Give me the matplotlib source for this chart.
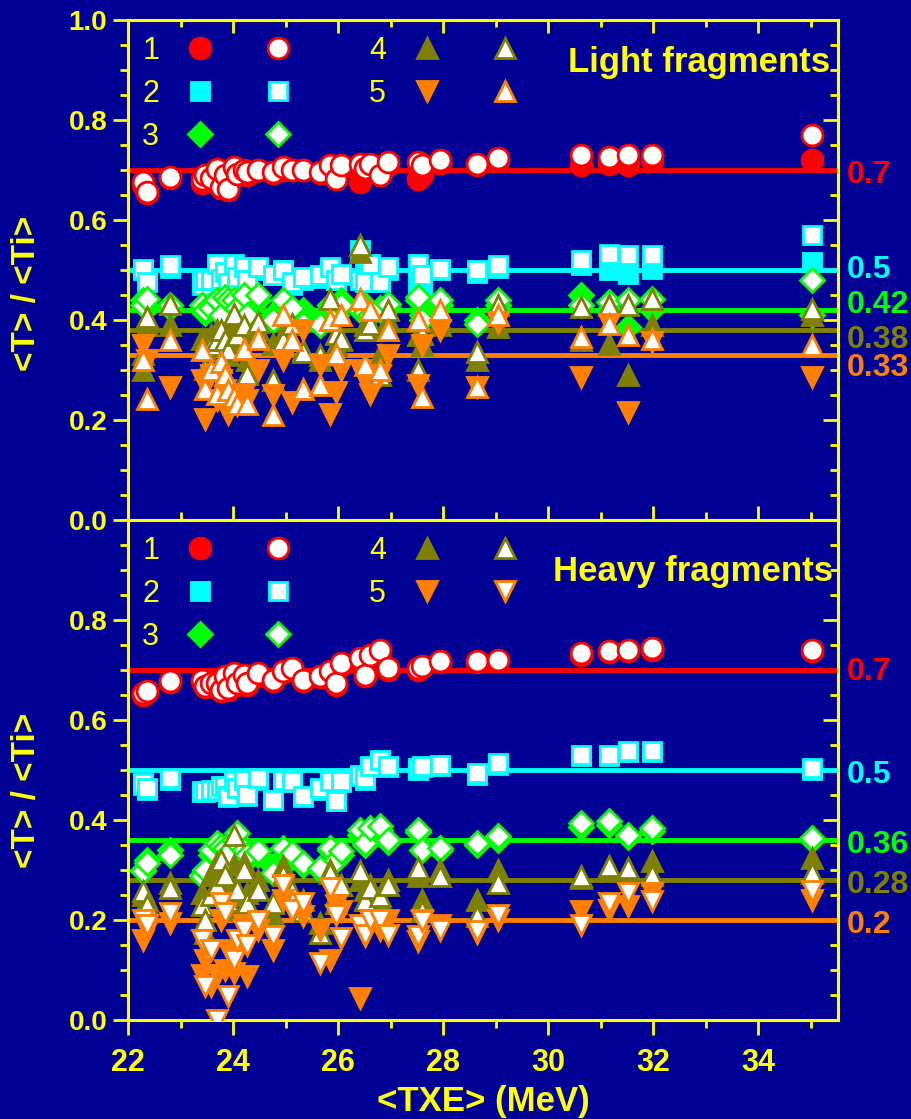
#!/usr/bin/env python3
# -*- coding: utf-8 -*-
"""
<T>/<Ti> vs <TXE> for light and heavy fragments.
"""

import matplotlib
matplotlib.use('Agg')
import matplotlib.pyplot as plt
from matplotlib.legend_handler import HandlerTuple
from matplotlib.ticker import MultipleLocator, FixedLocator, FormatStrFormatter

plt.rcParams['font.family'] = ['Liberation Sans', 'DejaVu Sans']

# <TXE> (MeV) of each data set
txe = [22.29, 22.36, 22.80, 23.40, 23.47, 23.58, 23.69, 23.78, 23.85, 23.91,
       24.01, 24.08, 24.20, 24.26, 24.48, 24.77, 24.96, 25.12, 25.34, 25.66,
       25.85, 25.97, 26.05, 26.42, 26.52, 26.61, 26.80, 26.95, 27.53, 27.60,
       27.94, 28.64, 29.05, 30.63, 31.16, 31.53, 31.97, 35.02]

# ---- light fragments ----
L1_fill = [0.670, 0.655, 0.685, 0.675, 0.680, 0.680, 0.690, 0.665, 0.670, 0.660,
           0.700, 0.690, 0.695, 0.690, 0.700, 0.695, 0.700, 0.700, 0.700, 0.695,
           0.705, 0.685, 0.705, 0.677, 0.700, 0.705, 0.690, 0.710, 0.683, 0.690,
           0.715, 0.710, 0.720, 0.710, 0.713, 0.710, 0.720, 0.720]
L1_open = [0.677, 0.657, 0.687, 0.683, 0.690, 0.685, 0.703, 0.667, 0.690, 0.662,
           0.707, 0.693, 0.700, 0.697, 0.700, 0.697, 0.707, 0.700, 0.700, 0.697,
           0.710, 0.683, 0.710, 0.713, 0.705, 0.713, 0.690, 0.717, 0.717, 0.710,
           0.720, 0.713, 0.725, 0.730, 0.727, 0.730, 0.730, 0.770]
L2_fill = [0.500, 0.480, 0.505, 0.480, 0.475, 0.480, 0.500, 0.490, 0.490, 0.480,
           0.500, 0.490, 0.500, 0.495, 0.500, 0.490, 0.500, 0.470, 0.480, 0.485,
           0.500, 0.480, 0.490, 0.540, 0.500, 0.500, 0.480, 0.500, 0.475, 0.470,
           0.500, 0.495, 0.505, 0.510, 0.500, 0.493, 0.503, 0.517]
L2_open = [0.503, 0.477, 0.510, 0.470, 0.480, 0.480, 0.513, 0.483, 0.497, 0.475,
           0.513, 0.487, 0.507, 0.480, 0.507, 0.490, 0.500, 0.477, 0.487, 0.490,
           0.507, 0.480, 0.493, 0.480, 0.477, 0.513, 0.477, 0.507, 0.513, 0.490,
           0.503, 0.500, 0.510, 0.520, 0.533, 0.530, 0.530, 0.570]
L3_fill = [0.440, 0.425, 0.425, 0.420, 0.415, 0.430, 0.430, 0.415, 0.440, 0.430,
           0.430, 0.420, 0.440, 0.420, 0.440, 0.410, 0.430, 0.420, 0.420, 0.400,
           0.430, 0.410, 0.440, 0.420, 0.430, 0.415, 0.420, 0.425, 0.440, 0.410,
           0.430, 0.400, 0.430, 0.450, 0.420, 0.387, 0.420, 0.410]
L3_open = [0.430, 0.443, 0.430, 0.430, 0.420, 0.425, 0.440, 0.410, 0.447, 0.440,
           0.440, 0.425, 0.450, 0.410, 0.450, 0.400, 0.440, 0.425, 0.393, 0.390,
           0.430, 0.420, 0.430, 0.420, 0.415, 0.410, 0.425, 0.433, 0.447, 0.400,
           0.440, 0.393, 0.440, 0.430, 0.437, 0.440, 0.443, 0.480]
L4_fill = [0.300, 0.390, 0.390, 0.363, 0.340, 0.370, 0.380, 0.350, 0.370, 0.330,
           0.390, 0.360, 0.370, 0.320, 0.380, 0.353, 0.370, 0.360, 0.340, 0.320,
           0.400, 0.350, 0.360, 0.537, 0.390, 0.380, 0.330, 0.400, 0.370, 0.350,
           0.390, 0.320, 0.386, 0.360, 0.353, 0.290, 0.390, 0.410]
L4_open = [0.333, 0.407, 0.433, 0.340, 0.303, 0.350, 0.360, 0.380, 0.360, 0.340,
           0.413, 0.370, 0.390, 0.293, 0.397, 0.280, 0.360, 0.393, 0.337, 0.330,
           0.443, 0.373, 0.363, 0.550, 0.380, 0.393, 0.290, 0.420, 0.300, 0.373,
           0.400, 0.337, 0.430, 0.427, 0.430, 0.430, 0.443, 0.423]
L5_fill = [0.350, 0.320, 0.267, 0.280, 0.203, 0.290, 0.240, 0.280, 0.260, 0.213,
           0.250, 0.230, 0.253, 0.240, 0.300, 0.250, 0.320, 0.237, 0.380, 0.310,
           0.213, 0.257, 0.300, 0.300, 0.280, 0.253, 0.290, 0.330, 0.270, 0.350,
           0.380, 0.267, 0.397, 0.287, 0.393, 0.217, 0.357, 0.287]
L5_open = [0.320, 0.243, 0.360, 0.340, 0.263, 0.300, 0.253, 0.317, 0.290, 0.260,
           0.247, 0.233, 0.343, 0.233, 0.363, 0.210, 0.410, 0.360, 0.263, 0.270,
           0.400, 0.333, 0.410, 0.443, 0.310, 0.420, 0.300, 0.380, 0.400, 0.247,
           0.420, 0.267, 0.410, 0.367, 0.393, 0.370, 0.363, 0.350]

# ---- heavy fragments ----
H1_fill = [0.650, 0.655, 0.675, 0.677, 0.665, 0.670, 0.670, 0.658, 0.685, 0.660,
           0.690, 0.670, 0.688, 0.670, 0.690, 0.678, 0.695, 0.700, 0.678, 0.685,
           0.695, 0.670, 0.710, 0.720, 0.688, 0.727, 0.737, 0.700, 0.700, 0.705,
           0.715, 0.715, 0.718, 0.730, 0.735, 0.737, 0.740, 0.737]
H1_open = [0.653, 0.657, 0.677, 0.680, 0.667, 0.673, 0.673, 0.660, 0.687, 0.663,
           0.693, 0.673, 0.690, 0.673, 0.693, 0.680, 0.697, 0.703, 0.680, 0.687,
           0.697, 0.673, 0.713, 0.723, 0.690, 0.730, 0.740, 0.703, 0.703, 0.707,
           0.717, 0.717, 0.720, 0.733, 0.737, 0.740, 0.743, 0.739]
H2_fill = [0.470, 0.460, 0.480, 0.455, 0.455, 0.458, 0.458, 0.465, 0.465, 0.445,
           0.475, 0.460, 0.478, 0.448, 0.480, 0.440, 0.478, 0.475, 0.445, 0.460,
           0.475, 0.437, 0.475, 0.488, 0.480, 0.505, 0.517, 0.505, 0.500, 0.505,
           0.508, 0.490, 0.510, 0.527, 0.527, 0.535, 0.535, 0.500]
H2_open = [0.473, 0.463, 0.483, 0.457, 0.457, 0.460, 0.460, 0.467, 0.467, 0.447,
           0.477, 0.463, 0.480, 0.450, 0.483, 0.440, 0.480, 0.477, 0.447, 0.463,
           0.477, 0.437, 0.477, 0.490, 0.483, 0.507, 0.520, 0.507, 0.503, 0.507,
           0.510, 0.493, 0.513, 0.530, 0.530, 0.537, 0.537, 0.503]
H3_fill = [0.300, 0.320, 0.340, 0.290, 0.300, 0.330, 0.340, 0.330, 0.340, 0.320,
           0.350, 0.360, 0.330, 0.320, 0.330, 0.307, 0.307, 0.330, 0.310, 0.300,
           0.340, 0.320, 0.330, 0.370, 0.350, 0.375, 0.380, 0.355, 0.375, 0.340,
           0.340, 0.350, 0.360, 0.385, 0.390, 0.365, 0.378, 0.360]
H3_open = [0.297, 0.313, 0.330, 0.287, 0.300, 0.340, 0.353, 0.347, 0.343, 0.333,
           0.360, 0.373, 0.340, 0.330, 0.337, 0.293, 0.343, 0.333, 0.313, 0.303,
           0.343, 0.320, 0.337, 0.380, 0.353, 0.383, 0.387, 0.360, 0.380, 0.340,
           0.343, 0.353, 0.367, 0.393, 0.397, 0.370, 0.383, 0.363]
H4_fill = [0.250, 0.240, 0.273, 0.253, 0.173, 0.290, 0.313, 0.300, 0.270, 0.220,
           0.310, 0.250, 0.313, 0.253, 0.280, 0.210, 0.307, 0.250, 0.240, 0.193,
           0.300, 0.250, 0.270, 0.280, 0.260, 0.270, 0.240, 0.280, 0.287, 0.240,
           0.300, 0.240, 0.300, 0.283, 0.300, 0.300, 0.317, 0.323]
H4_open = [0.257, 0.230, 0.263, 0.230, 0.200, 0.250, 0.270, 0.320, 0.290, 0.237,
           0.370, 0.260, 0.300, 0.233, 0.260, 0.233, 0.290, 0.257, 0.217, 0.173,
           0.293, 0.233, 0.270, 0.297, 0.240, 0.263, 0.247, 0.270, 0.303, 0.217,
           0.287, 0.207, 0.273, 0.287, 0.307, 0.303, 0.290, 0.293]
H5_fill = [0.160, 0.180, 0.193, 0.090, 0.120, 0.067, 0.090, 0.200, 0.100, 0.140,
           0.093, 0.130, 0.190, 0.087, 0.180, 0.140, 0.240, 0.220, 0.207, 0.180,
           0.120, 0.230, 0.217, 0.043, 0.167, 0.190, 0.180, 0.200, 0.157, 0.200,
           0.190, 0.173, 0.200, 0.217, 0.220, 0.227, 0.253, 0.240]
H5_open = [0.200, 0.190, 0.213, 0.160, 0.067, 0.140, 0.000, 0.233, 0.213, 0.047,
           0.120, 0.160, 0.180, 0.150, 0.197, 0.167, 0.270, 0.220, 0.233, 0.113,
           0.263, 0.210, 0.163, 0.190, 0.170, 0.200, 0.200, 0.170, 0.167, 0.197,
           0.180, 0.177, 0.210, 0.190, 0.233, 0.253, 0.237, 0.257]

# mean ratios (horizontal lines)
fit_light = [0.7, 0.5, 0.42, 0.38, 0.33]
fit_heavy = [0.7, 0.5, 0.36, 0.28, 0.2]

labels = ['1', '2', '3', '4', '5']

# ---- style ----
fondo = '#000094'
amarillo = '#ffff00'
colores = ['#ff0000', '#00ffff', '#00ff00', '#808000', '#ff8000']
marcas = ['o', 's', 'D', '^', 'v']
tam = [15, 12.5, 12, 15, 15]


def Panel(ax, y_fill, y_open, fits, dy_text, marca5_open, titulo, y_tit, x_tit, bottom):
    ax.set_facecolor(fondo)
    for k in range(5):
        ax.axhline(fits[k], color=colores[k], lw=3.5, zorder=1)
        ax.text(1.012, fits[k] + dy_text[k], '%g' % fits[k], color=colores[k],
                fontsize=23, fontweight='bold', ha='left', va='center',
                transform=ax.get_yaxis_transform(), clip_on=False)

    handles = []
    for k in range(5):
        m_open = marca5_open if k == 4 else marcas[k]
        hf, = ax.plot(txe, y_fill[k], ls='none', marker=marcas[k], ms=tam[k],
                      mfc=colores[k], mec=colores[k], mew=2, zorder=2 + 2 * k)
        ho, = ax.plot(txe, y_open[k], ls='none', marker=m_open, ms=tam[k],
                      mfc='white', mec=colores[k], mew=2, zorder=3 + 2 * k)
        handles.append((hf, ho))

    ax.legend(handles, labels, handler_map={tuple: HandlerTuple(ndivide=None, pad=0)},
              ncol=2, markerfirst=False, frameon=False, loc='upper left',
              bbox_to_anchor=(0.02, 0.968), borderpad=0, borderaxespad=0,
              handlelength=5.1, handletextpad=0.07, columnspacing=1.7,
              labelspacing=0.42, prop=dict(size=22), labelcolor=amarillo)

    ax.text(x_tit, y_tit, titulo, transform=ax.transAxes, ha='right', va='center',
            fontsize=25, fontweight='bold', color=amarillo, zorder=20)

    ax.set_xlim(22, 35.52)
    ax.set_ylim(0, 1)
    for s in ax.spines.values():
        s.set_color(amarillo)
        s.set_linewidth(2.2)

    ax.xaxis.set_major_locator(MultipleLocator(2))
    ax.xaxis.set_minor_locator(MultipleLocator(1))
    if bottom:
        ax.yaxis.set_major_locator(FixedLocator([0, 0.2, 0.4, 0.6, 0.8]))
        ax.tick_params(axis='x', which='both', direction='out', top=False,
                       labelbottom=True)
        ax.tick_params(axis='x', which='major', length=11)
        ax.tick_params(axis='x', which='minor', length=6)
    else:
        ax.yaxis.set_major_locator(MultipleLocator(0.2))
        ax.tick_params(axis='x', which='both', direction='inout', top=False,
                       labelbottom=False)
        ax.tick_params(axis='x', which='major', length=20)
        ax.tick_params(axis='x', which='minor', length=11)
        # ticks on the upper frame, pointing inward
        sec = ax.secondary_xaxis('top')
        sec.xaxis.set_major_locator(MultipleLocator(2))
        sec.xaxis.set_minor_locator(MultipleLocator(1))
        sec.tick_params(axis='x', which='both', direction='in', labeltop=False,
                        color=amarillo, width=2)
        sec.tick_params(axis='x', which='major', length=9)
        sec.tick_params(axis='x', which='minor', length=5)
        sec.spines['top'].set_color(amarillo)
        sec.spines['top'].set_linewidth(2.2)
    ax.yaxis.set_minor_locator(MultipleLocator(0.05))
    ax.yaxis.set_major_formatter(FormatStrFormatter('%.1f'))
    ax.tick_params(axis='y', which='both', direction='out', right=False)
    ax.tick_params(axis='y', which='major', length=11)
    ax.tick_params(axis='y', which='minor', length=6)
    ax.tick_params(which='both', color=amarillo, width=2, labelcolor=amarillo)
    ax.tick_params(axis='x', labelsize=22, pad=9)
    ax.tick_params(axis='y', labelsize=20, pad=4)
    for t in ax.get_xticklabels() + ax.get_yticklabels():
        t.set_fontweight('bold')

    # right frame, ticks pointing inward
    sec = ax.secondary_yaxis('right')
    sec.yaxis.set_major_locator(MultipleLocator(0.2))
    sec.yaxis.set_minor_locator(MultipleLocator(0.05))
    sec.tick_params(axis='y', which='both', direction='in', labelright=False,
                    color=amarillo, width=2)
    sec.tick_params(axis='y', which='major', length=11)
    sec.tick_params(axis='y', which='minor', length=6)
    sec.spines['right'].set_color(amarillo)
    sec.spines['right'].set_linewidth(2.2)

    ax.set_ylabel('<T> / <Ti>', fontsize=24, fontweight='bold', color=amarillo)


fig = plt.figure(figsize=(9.11, 11.19), dpi=100, facecolor=fondo)
ax1 = fig.add_axes([0.1405, 0.5353, 0.7794, 0.4468])
ax2 = fig.add_axes([0.1405, 0.0885, 0.7794, 0.4468])

Panel(ax1, [L1_fill, L2_fill, L3_fill, L4_fill, L5_fill],
      [L1_open, L2_open, L3_open, L4_open, L5_open],
      fit_light, [-0.01, 0.0, 0.01, -0.02, -0.025], '^',
      'Light fragments', 0.916, 0.989, bottom=False)
Panel(ax2, [H1_fill, H2_fill, H3_fill, H4_fill, H5_fill],
      [H1_open, H2_open, H3_open, H4_open, H5_open],
      fit_heavy, [-0.004, -0.01, -0.01, -0.01, -0.01], 'v',
      'Heavy fragments', 0.896, 0.993, bottom=True)

ax1.yaxis.set_label_coords(-0.121, 0.454)
ax2.yaxis.set_label_coords(-0.121, 0.46)
ax2.set_xlabel('<TXE> (MeV)', fontsize=25, fontweight='bold', color=amarillo)
ax2.xaxis.set_label_coords(0.5, -0.13)

fig.savefig('out.png', dpi=100, facecolor=fondo)
